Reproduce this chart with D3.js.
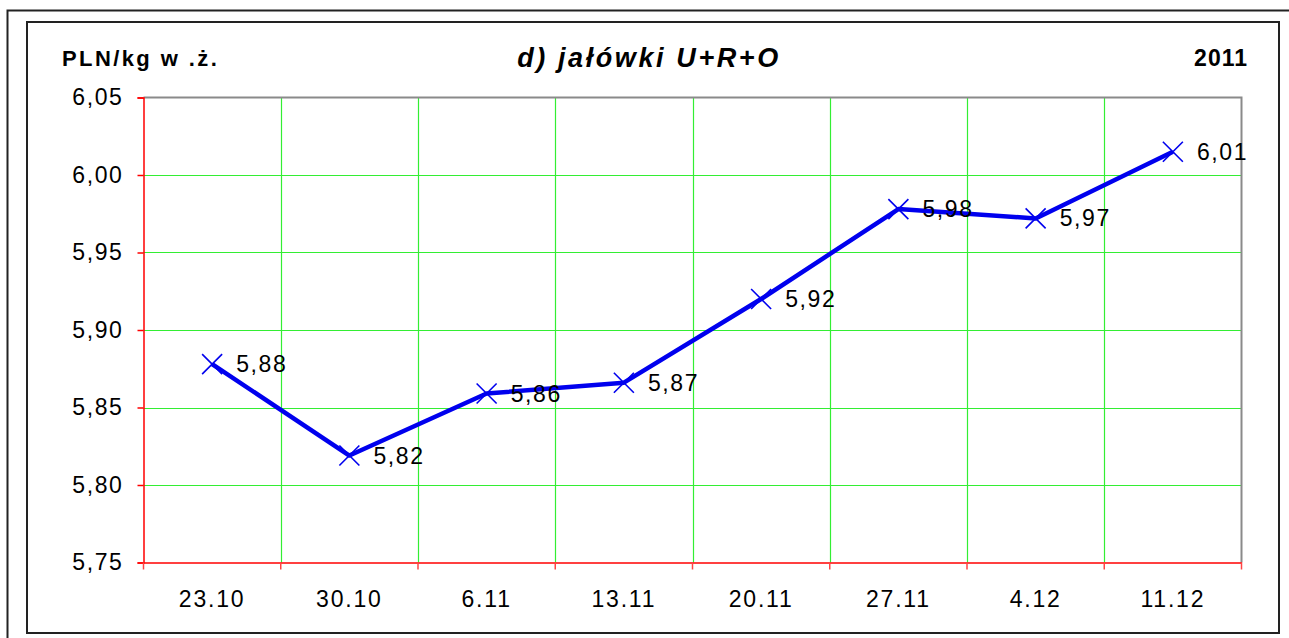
<!DOCTYPE html>
<html>
<head>
<meta charset="utf-8">
<script src="https://cdn.jsdelivr.net/npm/d3@7"></script>
<style>
  html, body { margin: 0; padding: 0; background: #fff; }
  svg { display: block; font-family: "Liberation Sans", Arial, sans-serif; }
</style>
</head>
<body>
<svg id="chart" width="1289" height="638"></svg>
<script>
const categories = ["23.10", "30.10", "6.11", "13.11", "20.11", "27.11", "4.12", "11.12"];
const values = [5.878, 5.819, 5.859, 5.866, 5.920, 5.978, 5.972, 6.015];
const valueLabels = ["5,88", "5,82", "5,86", "5,87", "5,92", "5,98", "5,97", "6,01"];
const yTicks = [5.75, 5.80, 5.85, 5.90, 5.95, 6.00, 6.05];
const titleText = "d) jałówki U+R+O";
const unitText = "PLN/kg w .ż.";
const yearText = "2011";

const svg = d3.select("#chart");
const plot = { left: 143.5, right: 1241.5, top: 97.5, bottom: 562.5 };

// Frames
svg.append("rect").attr("x", 7.5).attr("y", 10.5).attr("width", 1300).attr("height", 700)
  .attr("fill", "none").attr("stroke", "#222").attr("stroke-width", 2);
svg.append("rect").attr("x", 27).attr("y", 22).attr("width", 1252).attr("height", 611)
  .attr("fill", "#fff").attr("stroke", "#222").attr("stroke-width", 2);

const x = d3.scaleBand().domain(categories).range([plot.left, plot.right]).padding(0);
const y = d3.scaleLinear().domain([5.75, 6.05]).range([plot.bottom, plot.top]);

const fmt = v => d3.format(".2f")(v).replace(".", ",");

// Horizontal gridlines
svg.append("g").selectAll("line").data(yTicks.slice(1, -1)).join("line")
  .attr("x1", plot.left).attr("x2", plot.right)
  .attr("y1", d => Math.round(y(d)) + 0.5).attr("y2", d => Math.round(y(d)) + 0.5)
  .attr("stroke", "#33ee33").attr("stroke-width", 1.2);

// Vertical gridlines at category boundaries
const bounds = categories.slice(1).map(c => x(c));
svg.append("g").selectAll("line").data(bounds).join("line")
  .attr("x1", d => Math.round(d) + 0.5).attr("x2", d => Math.round(d) + 0.5)
  .attr("y1", plot.top).attr("y2", plot.bottom)
  .attr("stroke", "#33ee33").attr("stroke-width", 1.2);

// Top and right border (gray)
svg.append("path")
  .attr("d", `M${plot.left},${plot.top}H${plot.right}V${plot.bottom}`)
  .attr("fill", "none").attr("stroke", "#8a8a8a").attr("stroke-width", 2);

// Y axis
const yAxis = d3.axisLeft(y).tickValues(yTicks).tickSize(6).tickPadding(14).tickFormat(fmt);
const gy = svg.append("g").attr("transform", `translate(${plot.left},0)`).call(yAxis);
gy.select(".domain").attr("stroke", "#ff0000").attr("stroke-width", 1.5);
gy.selectAll(".tick line").attr("stroke", "#ff0000").attr("stroke-width", 1.5);
gy.selectAll(".tick text").attr("font-size", 23).attr("fill", "#000")
  .attr("letter-spacing", 1.6).attr("font-family", "Liberation Sans, Arial, sans-serif");

// X axis
const xAxis = d3.axisBottom(x).tickSize(0).tickPadding(28);
const gx = svg.append("g").attr("transform", `translate(0,${plot.bottom})`).call(xAxis);
gx.select(".domain").attr("stroke", "#ff0000").attr("stroke-width", 1.5);
gx.selectAll(".tick text").attr("font-size", 23).attr("fill", "#000")
  .attr("letter-spacing", 1.8).attr("font-family", "Liberation Sans, Arial, sans-serif");
// boundary tick marks below x axis
svg.append("g").selectAll("line").data([plot.left].concat(bounds, [plot.right])).join("line")
  .attr("x1", d => d).attr("x2", d => d)
  .attr("y1", plot.bottom).attr("y2", plot.bottom + 7)
  .attr("stroke", "#ff4444").attr("stroke-width", 1.5);

// Line
const cx = c => x(c) + x.bandwidth() / 2;
const line = d3.line().x((d, i) => cx(categories[i])).y(d => y(d));
svg.append("path").datum(values).attr("d", line)
  .attr("fill", "none").attr("stroke", "#0000ee").attr("stroke-width", 4.5)
  .attr("stroke-linejoin", "round");

// Markers
const m = 10;
svg.append("g").selectAll("path").data(values).join("path")
  .attr("d", (d, i) => {
    const px = cx(categories[i]), py = y(d);
    return `M${px - m},${py - m}L${px + m},${py + m}M${px - m},${py + m}L${px + m},${py - m}`;
  })
  .attr("stroke", "#0000ee").attr("stroke-width", 1.6).attr("fill", "none");

// Data labels
svg.append("g").selectAll("text").data(values).join("text")
  .attr("x", (d, i) => cx(categories[i]) + 24)
  .attr("y", d => y(d))
  .attr("dy", "0.35em")
  .attr("font-size", 23).attr("letter-spacing", 1.6).attr("fill", "#000")
  .text((d, i) => valueLabels[i]);

// Titles
svg.append("text").attr("x", 62).attr("y", 66)
  .attr("font-size", 22).attr("font-weight", "bold").attr("letter-spacing", 2.4)
  .attr("fill", "#000").text(unitText);
svg.append("text").attr("x", 649).attr("y", 67).attr("text-anchor", "middle")
  .attr("font-size", 27).attr("font-weight", "bold").attr("font-style", "italic")
  .attr("letter-spacing", 2.6).attr("fill", "#000").text(titleText);
svg.append("text").attr("x", 1248).attr("y", 66).attr("text-anchor", "end")
  .attr("font-size", 23).attr("font-weight", "bold").attr("letter-spacing", 1)
  .attr("fill", "#000").text(yearText);
</script>
</body>
</html>
